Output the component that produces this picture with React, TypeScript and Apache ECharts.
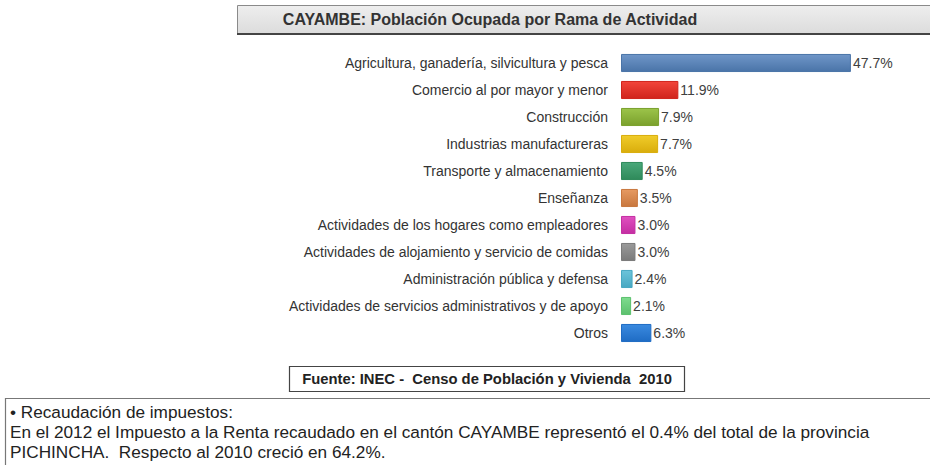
import React, { useEffect, useRef } from "react";
import * as echarts from "echarts";

const categories = [
  "Agricultura, ganadería, silvicultura y pesca",
  "Comercio al por mayor y menor",
  "Construcción",
  "Industrias manufactureras",
  "Transporte y almacenamiento",
  "Enseñanza",
  "Actividades de los hogares como empleadores",
  "Actividades de alojamiento y servicio de comidas",
  "Administración pública y defensa",
  "Actividades de servicios administrativos y de apoyo",
  "Otros",
];
const values = [47.7, 11.9, 7.9, 7.7, 4.5, 3.5, 3.0, 3.0, 2.4, 2.1, 6.3];
const barColors = [
  ["#6f96c8", "#4a74a8"],
  ["#f2453a", "#d0241c"],
  ["#9cc44a", "#7aa02c"],
  ["#f0cc2a", "#d9ad0c"],
  ["#4aa87a", "#2f8a5a"],
  ["#e69a62", "#c8773e"],
  ["#e050c0", "#c42ea2"],
  ["#9a9a9a", "#7a7a7a"],
  ["#6cc4da", "#48a8c2"],
  ["#7edc8e", "#5cc06e"],
  ["#3a8ae0", "#1f6cc4"],
];
const titleText = "CAYAMBE: Población Ocupada por Rama de Actividad";
const sourceText = "Fuente: INEC -  Censo de Población y Vivienda  2010";
const noteLines = [
  "• Recaudación de impuestos:",
  "En el 2012 el Impuesto a la Renta recaudado en el cantón CAYAMBE representó el 0.4% del total de la provincia",
  "PICHINCHA.  Respecto al 2010 creció en 64.2%.",
];

const FONT = "Liberation Sans, Arial, sans-serif";

export default function App() {
  const ref = useRef<HTMLDivElement>(null);
  useEffect(() => {
    if (!ref.current) return;
    const chart = echarts.init(ref.current, null, { renderer: "svg" });
    chart.setOption({
      animation: false,
      backgroundColor: "#ffffff",
      textStyle: { fontFamily: FONT },
      grid: { left: 621, right: 68, top: 49.5, height: 297, containLabel: false },
      xAxis: {
        type: "value",
        min: 0,
        max: 50,
        show: false,
      },
      yAxis: {
        type: "category",
        data: categories,
        inverse: true,
        axisLine: { show: false },
        axisTick: { show: false },
        axisLabel: {
          color: "#333333",
          fontSize: 14,
          margin: 13,
          fontFamily: FONT,
        },
      },
      series: [
        {
          type: "bar",
          barCategoryGap: "33%",
          data: values.map((v, i) => ({
            value: v,
            itemStyle: {
              color: new echarts.graphic.LinearGradient(0, 0, 0, 1, [
                { offset: 0, color: barColors[i][0] },
                { offset: 1, color: barColors[i][1] },
              ]),
              borderColor: barColors[i][1],
              borderWidth: 1,
            },
          })),
          label: {
            show: true,
            position: "right",
            distance: 2,
            color: "#404040",
            fontSize: 14,
            fontFamily: FONT,
            formatter: (p: any) => p.value.toFixed(1) + "%",
          },
        },
      ],
      graphic: [
        {
          type: "rect",
          shape: { x: 237.5, y: 5.5, width: 700, height: 28 },
          style: {
            fill: new echarts.graphic.LinearGradient(0, 0, 0, 1, [
              { offset: 0, color: "#eeeeee" },
              { offset: 1, color: "#dcdcdc" },
            ]),
            stroke: "#8a8a8a",
            lineWidth: 1,
          },
          z: 1,
        },
        {
          type: "line",
          shape: { x1: 237, y1: 34, x2: 930, y2: 34 },
          style: { stroke: "#444444", lineWidth: 2 },
          z: 2,
        },
        {
          type: "text",
          x: 490,
          y: 19,
          style: {
            text: titleText,
            fontSize: 16,
            fontWeight: "bold",
            fill: "#333333",
            align: "center",
            verticalAlign: "middle",
            fontFamily: FONT,
          },
          z: 3,
        },
        {
          type: "rect",
          shape: { x: 289.5, y: 366.5, width: 395, height: 25 },
          style: { fill: "#ffffff", stroke: "#444444", lineWidth: 1.2 },
          z: 1,
        },
        {
          type: "text",
          x: 487,
          y: 379,
          style: {
            text: sourceText,
            fontSize: 14.8,
            fontWeight: "bold",
            fill: "#222222",
            align: "center",
            verticalAlign: "middle",
            fontFamily: FONT,
          },
          z: 3,
        },
        {
          type: "rect",
          shape: { x: 5.5, y: 398.5, width: 930, height: 70 },
          style: { fill: "#ffffff", stroke: "#777777", lineWidth: 1.2 },
          z: 1,
        },
        ...noteLines.map((t, i) => ({
          type: "text",
          x: 10,
          y: 412 + i * 20,
          style: {
            text: t,
            fontSize: 17.2,
            fill: "#222222",
            align: "left",
            verticalAlign: "middle",
            fontFamily: FONT,
          },
          z: 3,
        })),
      ],
    });
    return () => chart.dispose();
  }, []);
  return (
    <div
      ref={ref}
      style={{ position: "absolute", left: 0, top: 0, width: 930, height: 465 }}
    />
  );
}
